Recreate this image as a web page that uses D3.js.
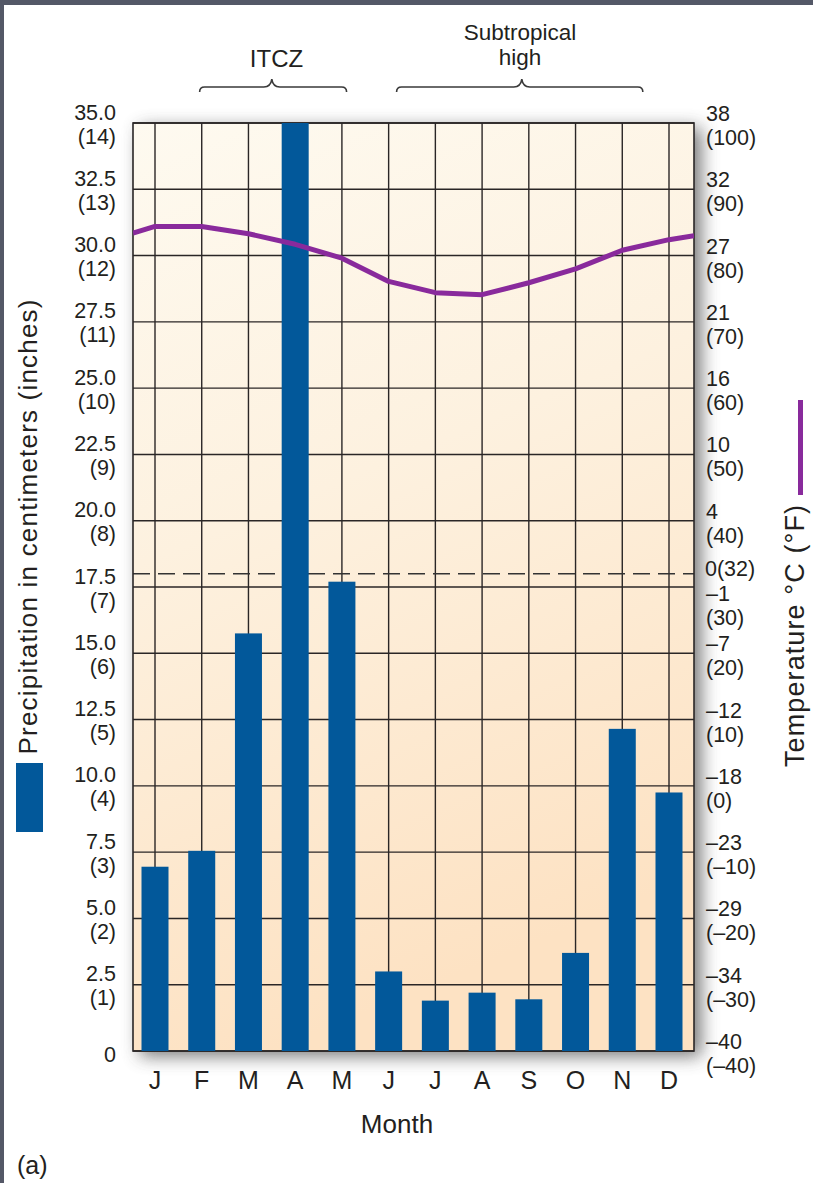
<!DOCTYPE html>
<html>
<head>
<meta charset="utf-8">
<script src="https://cdn.jsdelivr.net/npm/d3@7"></script>
<style>
  html, body { margin: 0; padding: 0; background: #fff; }
  svg { display: block; font-family: "Liberation Sans", Arial, Helvetica, sans-serif; }
</style>
</head>
<body>
<svg id="chart" width="813" height="1183"></svg>
<script>
// Monthly climate record: precipitation bars (cm) and mean temperature curve (°F)
const months = ["J", "F", "M", "A", "M", "J", "J", "A", "S", "O", "N", "D"];
const precipCm = [6.95, 7.55, 15.75, 35.0, 17.7, 3.0, 1.9, 2.2, 1.95, 3.7, 12.15, 9.75];
const tempF = [84.4, 84.4, 83.3, 81.7, 79.6, 76.1, 74.4, 74.1, 75.9, 78.0, 80.8, 82.4];
// curve values where it meets the left and right edges of the frame
const tempEdgeF = [83.4, 83.0];

const precipTicks = [0, 2.5, 5, 7.5, 10, 12.5, 15, 17.5, 20, 22.5, 25, 27.5, 30, 32.5, 35];
const precipTickInches = ["", "(1)", "(2)", "(3)", "(4)", "(5)", "(6)", "(7)", "(8)", "(9)", "(10)", "(11)", "(12)", "(13)", "(14)"];
const tempTicksF = [-40, -30, -20, -10, 0, 10, 20, 30, 40, 50, 60, 70, 80, 90, 100];
const tempTickC = ["–40", "–34", "–29", "–23", "–18", "–12", "–7", "–1", "4", "10", "16", "21", "27", "32", "38"];
const tempTickFText = ["(–40)", "(–30)", "(–20)", "(–10)", "(0)", "(10)", "(20)", "(30)", "(40)", "(50)", "(60)", "(70)", "(80)", "(90)", "(100)"];
const freezingF = 32;
const freezingLabel = "0(32)";

// seasonal brackets, spans given in month positions (0 = January)
const bracketLabels = [["ITCZ"], ["Subtropical", "high"]];
const bracketFrom = [0.955, 5.17];
const bracketTo = [4.1, 10.44];
const bracketPeak = [2.5, 7.85];
const bracketText = [2.6, 7.81];

// ---- layout ----
const frame = { left: 133, right: 694, top: 123, bottom: 1051 };
const ink = "#231f20";
const gridInk = "#2a2626";
const barBlue = "#02589a";
const tempPurple = "#892a9c";

const svg = d3.select("#chart");

const x = d3.scalePoint().domain(d3.range(months.length)).range([155, 669]);
const xMonth = d3.scaleLinear().domain([0, months.length - 1]).range(x.range());
const yP = d3.scaleLinear().domain([0, 35]).range([frame.bottom, frame.top]);
const yT = d3.scaleLinear().domain([-40, 100]).range([frame.bottom, frame.top]);

const defs = svg.append("defs");
const bg = defs.append("linearGradient").attr("id", "plotFill")
  .attr("x1", 0).attr("y1", 0).attr("x2", 0.25).attr("y2", 1);
bg.append("stop").attr("offset", 0).attr("stop-color", "#fefaf0");
bg.append("stop").attr("offset", 0.45).attr("stop-color", "#fdf1df");
bg.append("stop").attr("offset", 1).attr("stop-color", "#fde2c3");

defs.append("filter").attr("id", "soft")
  .attr("x", "-20%").attr("y", "-20%").attr("width", "140%").attr("height", "140%")
  .append("feGaussianBlur").attr("stdDeviation", 9);

defs.append("clipPath").attr("id", "plotClip")
  .append("rect")
  .attr("x", frame.left).attr("y", frame.top)
  .attr("width", frame.right - frame.left).attr("height", frame.bottom - frame.top);

// page edges
svg.append("rect").attr("x", 0).attr("y", 0).attr("width", 813).attr("height", 5).attr("fill", "#545867");
svg.append("rect").attr("x", 0).attr("y", 0).attr("width", 4).attr("height", 1183).attr("fill", "#545867");

// drop shadow under the plot panel
svg.append("rect")
  .attr("x", frame.left + 7).attr("y", frame.top + 5)
  .attr("width", frame.right - frame.left).attr("height", frame.bottom - frame.top)
  .attr("fill", "#666").attr("opacity", 0.9)
  .attr("filter", "url(#soft)");

// plot panel
svg.append("rect")
  .attr("x", frame.left).attr("y", frame.top)
  .attr("width", frame.right - frame.left).attr("height", frame.bottom - frame.top)
  .attr("fill", "url(#plotFill)");

// grid
const grid = svg.append("g").attr("stroke", gridInk).attr("stroke-width", 1.4);
grid.selectAll("line.h").data(precipTicks).join("line").attr("class", "h")
  .attr("x1", frame.left).attr("x2", frame.right)
  .attr("y1", d => yP(d)).attr("y2", d => yP(d));
grid.selectAll("line.v").data(d3.range(months.length)).join("line").attr("class", "v")
  .attr("x1", d => x(d)).attr("x2", d => x(d))
  .attr("y1", frame.top).attr("y2", frame.bottom);

// freezing line
svg.append("line")
  .attr("x1", frame.left).attr("x2", frame.right)
  .attr("y1", yT(freezingF)).attr("y2", yT(freezingF))
  .attr("stroke", "#333").attr("stroke-width", 1.5).attr("stroke-dasharray", "17 8");

// frame
svg.append("rect")
  .attr("x", frame.left).attr("y", frame.top)
  .attr("width", frame.right - frame.left).attr("height", frame.bottom - frame.top)
  .attr("fill", "none").attr("stroke", gridInk).attr("stroke-width", 1.6);

// precipitation bars
const barW = 27;
svg.append("g").attr("clip-path", "url(#plotClip)")
  .selectAll("rect").data(precipCm).join("rect")
  .attr("x", (d, i) => x(i) - barW / 2)
  .attr("width", barW)
  .attr("y", d => yP(d))
  .attr("height", d => yP(0) - yP(d))
  .attr("fill", barBlue);

// temperature curve
const tempPts = [[frame.left, tempEdgeF[0]]]
  .concat(tempF.map((t, i) => [x(i), t]))
  .concat([[frame.right, tempEdgeF[1]]]);
svg.append("path")
  .attr("clip-path", "url(#plotClip)")
  .attr("d", d3.line().x(d => d[0]).y(d => yT(d[1])).curve(d3.curveLinear)(tempPts))
  .attr("fill", "none").attr("stroke", tempPurple).attr("stroke-width", 5)
  .attr("stroke-linejoin", "round").attr("stroke-linecap", "butt");

// two-line tick label: one text element, second line as a tspan
function pairLabel(g, xPos, yTop, a, b, gap) {
  const t = g.append("text").attr("x", xPos).attr("y", yTop);
  t.append("tspan").attr("x", xPos).text(a);
  t.append("tspan").attr("x", xPos).attr("dy", gap).text(b);
  return t;
}

// left axis labels (cm over inches)
const tickFont = 21.5;
const lineGap = 24;
const left = svg.append("g").attr("fill", ink).attr("font-size", tickFont).attr("text-anchor", "end");
precipTicks.forEach((v, i) => {
  if (v === 0) {
    left.append("text").attr("x", 116).attr("y", yP(v) + 11).text("0");
  } else {
    pairLabel(left, 116, yP(v) - 3.5, d3.format(".1f")(v), precipTickInches[i], lineGap);
  }
});

// right axis labels (°C over °F)
const right = svg.append("g").attr("fill", ink).attr("font-size", tickFont).attr("text-anchor", "start");
tempTicksF.forEach((v, i) => {
  const shift = v === 30 ? 16 : 0;
  pairLabel(right, 706, yT(v) - 2 + shift, tempTickC[i], tempTickFText[i], lineGap);
});
right.append("text").attr("x", 705).attr("y", yT(freezingF) + 2).text(freezingLabel);

// month labels
svg.append("g").attr("fill", ink).attr("font-size", 25).attr("text-anchor", "middle")
  .selectAll("text").data(months).join("text")
  .attr("x", (d, i) => x(i)).attr("y", 1089).text(d => d);

svg.append("text").attr("x", 397).attr("y", 1133).attr("text-anchor", "middle")
  .attr("font-size", 26).attr("fill", ink).text("Month");

svg.append("text").attr("x", 17).attr("y", 1174)
  .attr("font-size", 25).attr("fill", ink).text("(a)");

// axis titles with their legend keys
svg.append("rect").attr("x", 16).attr("y", 763).attr("width", 27).attr("height", 69).attr("fill", barBlue);
svg.append("text")
  .attr("transform", "translate(37,527) rotate(-90)")
  .attr("text-anchor", "middle").attr("font-size", 26).attr("fill", ink)
  .attr("textLength", 455).attr("lengthAdjust", "spacing")
  .text("Precipitation in centimeters (inches)");

svg.append("rect").attr("x", 798).attr("y", 400).attr("width", 5).attr("height", 95).attr("fill", tempPurple);
svg.append("text")
  .attr("transform", "translate(804,636) rotate(-90)")
  .attr("text-anchor", "middle").attr("font-size", 27).attr("fill", ink)
  .attr("textLength", 262).attr("lengthAdjust", "spacing")
  .text("Temperature °C (°F)");

// seasonal brackets above the months
const braceY = 87;
const lastLineY = [66.5, 65];
const bracketGap = 25;
bracketLabels.forEach((lines, bi) => {
  const x0 = xMonth(bracketFrom[bi]), x1 = xMonth(bracketTo[bi]);
  const mid = xMonth(bracketPeak[bi]);
  const p = d3.path();
  p.moveTo(x0, braceY + 5);
  p.quadraticCurveTo(x0, braceY, x0 + 5, braceY);
  p.lineTo(mid - 8, braceY);
  p.quadraticCurveTo(mid - 1, braceY, mid, braceY - 8);
  p.quadraticCurveTo(mid + 1, braceY, mid + 8, braceY);
  p.lineTo(x1 - 5, braceY);
  p.quadraticCurveTo(x1, braceY, x1, braceY + 5);
  svg.append("path").attr("d", p.toString())
    .attr("fill", "none").attr("stroke", "#3a3a3a").attr("stroke-width", 1.6);
  const tx = xMonth(bracketText[bi]);
  const t = svg.append("text")
    .attr("x", tx).attr("y", lastLineY[bi] - (lines.length - 1) * bracketGap)
    .attr("text-anchor", "middle").attr("font-size", lines.length > 1 ? 22.5 : 24).attr("fill", ink);
  lines.forEach((line, k) => {
    t.append("tspan").attr("x", tx).attr("dy", k === 0 ? 0 : bracketGap).text(line);
  });
});
</script>
</body>
</html>
